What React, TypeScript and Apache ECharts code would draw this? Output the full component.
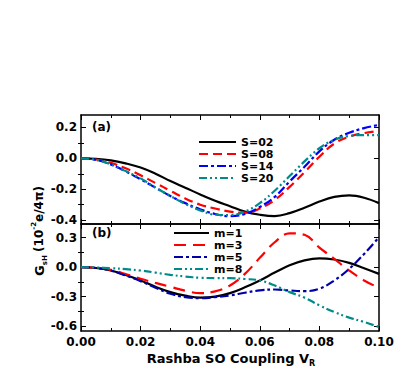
import React, { useEffect, useRef } from "react";
import * as echarts from "echarts";

const xValues = [0, 0.005, 0.01, 0.015, 0.02, 0.025, 0.03, 0.035, 0.04, 0.045, 0.05, 0.055, 0.06, 0.065, 0.07, 0.075, 0.08, 0.085, 0.09, 0.095, 0.1];

const s02 = [0, -0.003, -0.013, -0.033, -0.06, -0.1, -0.147, -0.19, -0.234, -0.275, -0.31, -0.345, -0.365, -0.374, -0.355, -0.32, -0.28, -0.25, -0.24, -0.255, -0.29];
const s08 = [0, -0.008, -0.03, -0.065, -0.11, -0.16, -0.21, -0.26, -0.3, -0.325, -0.345, -0.352, -0.325, -0.27, -0.185, -0.09, 0.01, 0.095, 0.14, 0.163, 0.177];
const s14 = [0, -0.01, -0.04, -0.085, -0.136, -0.19, -0.244, -0.29, -0.33, -0.36, -0.374, -0.36, -0.315, -0.25, -0.15, -0.055, 0.045, 0.12, 0.165, 0.195, 0.216];
const s20 = [0, -0.01, -0.04, -0.083, -0.13, -0.19, -0.244, -0.295, -0.337, -0.365, -0.367, -0.345, -0.29, -0.21, -0.115, -0.02, 0.065, 0.12, 0.145, 0.15, 0.15];

const m1 = [0, -0.008, -0.034, -0.08, -0.135, -0.2, -0.254, -0.29, -0.31, -0.3, -0.264, -0.205, -0.135, -0.055, 0.02, 0.07, 0.09, 0.078, 0.044, -0.01, -0.068];
const m3 = [0, -0.007, -0.027, -0.07, -0.118, -0.16, -0.2, -0.24, -0.264, -0.247, -0.186, -0.068, 0.095, 0.254, 0.345, 0.33, 0.2, 0.085, -0.034, -0.135, -0.21];
const m5 = [0, -0.008, -0.034, -0.085, -0.142, -0.21, -0.27, -0.305, -0.315, -0.305, -0.288, -0.26, -0.237, -0.227, -0.237, -0.244, -0.22, -0.135, -0.017, 0.135, 0.305];
const m8 = [0, -0.003, -0.01, -0.02, -0.034, -0.055, -0.078, -0.095, -0.108, -0.111, -0.112, -0.12, -0.135, -0.186, -0.254, -0.31, -0.389, -0.457, -0.514, -0.558, -0.609];

const xTickLabels = [0, 0.02, 0.04, 0.06, 0.08, 0.1];
const yTicksA = [-0.4, -0.2, 0, 0.2];
const yMinorA = [-0.3, -0.1, 0.1];
const yTicksB = [-0.6, -0.3, 0, 0.3];
const yMinorB = [-0.45, -0.15, 0.15];

const FONT = "DejaVu Sans";

export default function App() {
  const ref = useRef<HTMLDivElement>(null);
  useEffect(() => {
    const chart = echarts.init(ref.current!, null, { renderer: "svg" });
    const grids = [
      { left: 81, top: 115, width: 298, height: 109 },
      { left: 81, top: 224, width: 298, height: 107 },
    ];
    const yRanges = [
      { min: -0.425, max: 0.28, major: yTicksA, minor: yMinorA, fmt: (v: number) => v.toFixed(1) },
      { min: -0.65, max: 0.44, major: yTicksB, minor: yMinorB, fmt: (v: number) => v.toFixed(1) },
    ];
    const xAxes: any[] = [];
    const yAxes: any[] = [];
    const lineCol = "#000";
    [0, 1].forEach((g) => {
      ["bottom", "top"].forEach((pos) => {
        xAxes.push({
          type: "value",
          gridIndex: g,
          position: pos,
          min: 0,
          max: 0.1,
          interval: 0.02,
          axisLine: { show: true, onZero: false, lineStyle: { color: lineCol, width: 1.5 } },
          axisTick: { show: true, inside: true, length: 5, lineStyle: { color: lineCol, width: 1 } },
          minorTick: { show: true, splitNumber: 2, length: 3, lineStyle: { color: lineCol, width: 1 } },
          splitLine: { show: false },
          axisLabel: {
            show: g === 1 && pos === "bottom",
            color: "#000",
            fontFamily: FONT,
            fontWeight: "bold",
            fontSize: 12,
            margin: 5,
            formatter: (v: number) => (xTickLabels.some((t) => Math.abs(t - v) < 1e-9) ? v.toFixed(2) : ""),
          },
        });
      });
      const r = yRanges[g];
      ["left", "right"].forEach((pos) => {
        yAxes.push({
          type: "value",
          gridIndex: g,
          position: pos,
          min: r.min,
          max: r.max,
          axisLine: { show: true, onZero: false, lineStyle: { color: lineCol, width: 1.5 } },
          axisTick: { show: true, inside: true, length: 5, customValues: r.major, lineStyle: { color: lineCol, width: 1 } },
          splitLine: { show: false },
          axisLabel: {
            show: pos === "left",
            customValues: r.major,
            color: "#000",
            fontFamily: FONT,
            fontWeight: "bold",
            fontSize: 12,
            margin: 4,
            formatter: r.fmt,
          },
        });
        yAxes.push({
          type: "value",
          gridIndex: g,
          position: pos,
          min: r.min,
          max: r.max,
          axisLine: { show: false },
          axisTick: { show: true, inside: true, length: 3, customValues: r.minor, lineStyle: { color: lineCol, width: 1 } },
          splitLine: { show: false },
          axisLabel: { show: false },
        });
      });
    });

    const pair = (ys: number[]) => xValues.map((x, i) => [x, ys[i]]);
    const mk = (name: string, ys: number[], g: number, color: string, type: any) => ({
      type: "line",
      name,
      xAxisIndex: g * 2,
      yAxisIndex: g * 4,
      data: pair(ys),
      smooth: 0.4,
      symbol: "none",
      lineStyle: { color, width: 2.2, type },
      itemStyle: { color },
    });

    const dashA = [9, 5];
    const dashDot = [9, 3, 3, 3];
    const dashDotDot = [8, 3, 2, 3, 2, 3];

    const series = [
      mk("S=02", s02, 0, "#000000", "solid"),
      mk("S=08", s08, 0, "#ff0000", dashA),
      mk("S=14", s14, 0, "#0000ff", dashDot),
      mk("S=20", s20, 0, "#008b8b", dashDotDot),
      mk("m=1", m1, 1, "#000000", "solid"),
      mk("m=3", m3, 1, "#ff0000", [12, 7]),
      mk("m=5", m5, 1, "#0000a8", dashDot),
      mk("m=8", m8, 1, "#008b8b", dashDotDot),
    ];

    const legendText = { fontFamily: FONT, fontWeight: "bold", fontSize: 11, color: "#000", lineHeight: 12 };

    chart.setOption({
      animation: false,
      backgroundColor: "#fff",
      grid: grids,
      xAxis: xAxes,
      yAxis: yAxes,
      series,
      legend: [
        {
          data: ["S=02", "S=08", "S=14", "S=20"],
          orient: "vertical",
          left: 198,
          top: 136,
          itemWidth: 37,
          itemHeight: 12,
          itemGap: 0,
          padding: 0,
          itemStyle: { opacity: 0 },
          textStyle: legendText,
        },
        {
          data: ["m=1", "m=3", "m=5", "m=8"],
          orient: "vertical",
          left: 173,
          top: 227,
          itemWidth: 35,
          itemHeight: 12,
          itemGap: 0,
          padding: 0,
          itemStyle: { opacity: 0 },
          textStyle: legendText,
        },
      ],
      graphic: [
        {
          type: "text",
          left: 92,
          top: 121,
          style: { text: "(a)", fontFamily: FONT, fontWeight: "bold", fontSize: 12, fill: "#000" },
        },
        {
          type: "text",
          left: 92,
          top: 227,
          style: { text: "(b)", fontFamily: FONT, fontWeight: "bold", fontSize: 12, fill: "#000" },
        },
        {
          type: "text",
          x: 231,
          y: 358,
          style: {
            text: "{n|Rashba SO Coupling V}{s|R}",
            align: "center",
            verticalAlign: "middle",
            rich: {
              n: { fontFamily: FONT, fontWeight: "bold", fontSize: 13, fill: "#000", lineHeight: 18, verticalAlign: "middle" },
              s: { fontFamily: FONT, fontWeight: "bold", fontSize: 8, fill: "#000", lineHeight: 18, verticalAlign: "bottom" },
            },
          },
        },
        {
          type: "text",
          x: 39,
          y: 231,
          rotation: Math.PI / 2,
          style: {
            text: "{n|G}{s|sH} {p|(10}{u|-2}{p|e/4π)}",
            align: "center",
            verticalAlign: "middle",
            rich: {
              n: { fontFamily: FONT, fontWeight: "bold", fontSize: 13, fill: "#000", lineHeight: 18, verticalAlign: "middle" },
              s: { fontFamily: FONT, fontWeight: "bold", fontSize: 7, fill: "#000", lineHeight: 18, verticalAlign: "bottom" },
              p: { fontFamily: FONT, fontWeight: "bold", fontSize: 12, fill: "#000", lineHeight: 18, verticalAlign: "middle" },
              u: { fontFamily: FONT, fontWeight: "bold", fontSize: 7, fill: "#000", lineHeight: 18, verticalAlign: "top" },
            },
          },
        },
      ],
    });
    return () => chart.dispose();
  }, []);
  return <div ref={ref} style={{ width: 409, height: 382, position: "absolute", left: 0, top: 0 }} />;
}
